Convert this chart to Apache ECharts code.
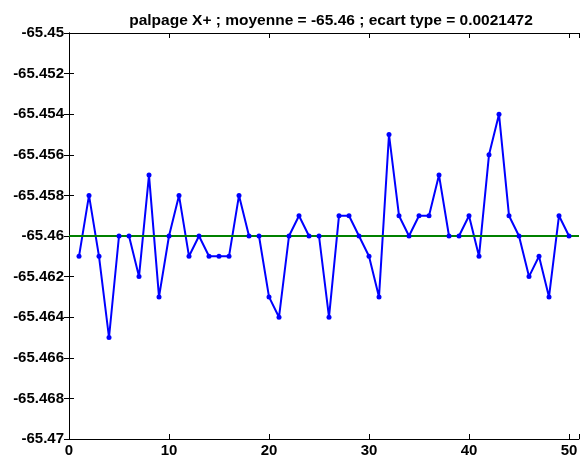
<!DOCTYPE html>
<html>
<head>
<meta charset="utf-8">
<script src="https://cdn.jsdelivr.net/npm/echarts@6/dist/echarts.min.js"></script>
<style>
  html, body { margin: 0; padding: 0; background: #fff; }
  #chart { width: 582px; height: 460px; }
</style>
</head>
<body>
<div id="chart"></div>
<script>
// Probe measurements, one per sample index
const sampleIndex = [
  1, 2, 3, 4, 5, 6, 7, 8, 9, 10,
  11, 12, 13, 14, 15, 16, 17, 18, 19, 20,
  21, 22, 23, 24, 25, 26, 27, 28, 29, 30,
  31, 32, 33, 34, 35, 36, 37, 38, 39, 40,
  41, 42, 43, 44, 45, 46, 47, 48, 49, 50
];
const measured = [
  -65.461, -65.458, -65.461, -65.465, -65.460, -65.460, -65.462, -65.457, -65.463, -65.460,
  -65.458, -65.461, -65.460, -65.461, -65.461, -65.461, -65.458, -65.460, -65.460, -65.463,
  -65.464, -65.460, -65.459, -65.460, -65.460, -65.464, -65.459, -65.459, -65.460, -65.461,
  -65.463, -65.455, -65.459, -65.460, -65.459, -65.459, -65.457, -65.460, -65.460, -65.459,
  -65.461, -65.456, -65.454, -65.459, -65.460, -65.462, -65.461, -65.463, -65.459, -65.460
];
const meanValue = -65.46;
const meanSpan = [0, 51];
const xTickValues = [0, 10, 20, 30, 40, 50];
const yTickValues = [-65.47, -65.468, -65.466, -65.464, -65.462, -65.46, -65.458, -65.456, -65.454, -65.452, -65.45];
const titleText = 'palpage X+ ; moyenne = -65.46 ; ecart type = 0.0021472';

const FONT = '"Liberation Sans", Arial, Helvetica, sans-serif';
const TITLE_SIZE = 15.5;
const LABEL_SIZE = 15;
const axisLineStyle = { show: true, lineStyle: { color: '#000', width: 1 } };
const innerTicks = { show: true, inside: true, length: 5, lineStyle: { color: '#000', width: 1 } };

const chart = echarts.init(document.getElementById('chart'), null, { renderer: 'canvas' });

chart.setOption({
  animation: false,
  backgroundColor: '#fff',
  title: {
    text: titleText,
    left: 326,
    top: 8,
    textAlign: 'center',
    textStyle: { fontFamily: FONT, fontSize: TITLE_SIZE, fontWeight: 'bold', color: '#000' }
  },
  grid: { left: 69, top: 33, width: 514, height: 406, containLabel: false },
  xAxis: [
    {
      type: 'value', position: 'bottom',
      min: xTickValues[0], max: meanSpan[1], interval: 10,
      axisLine: axisLineStyle, axisTick: innerTicks,
      splitLine: { show: false },
      axisLabel: {
        margin: 4, color: '#000', fontFamily: FONT, fontSize: LABEL_SIZE, fontWeight: 'bold',
        formatter: v => (xTickValues.indexOf(v) >= 0 ? String(v) : '')
      }
    },
    {
      type: 'value', position: 'top',
      min: xTickValues[0], max: meanSpan[1], interval: 10,
      axisLine: axisLineStyle, axisTick: innerTicks,
      splitLine: { show: false }, axisLabel: { show: false }
    }
  ],
  yAxis: [
    {
      type: 'value', position: 'left',
      min: yTickValues[0], max: yTickValues[yTickValues.length - 1], interval: 0.002,
      axisLine: axisLineStyle, axisTick: innerTicks,
      splitLine: { show: false },
      axisLabel: {
        margin: 5, color: '#000', fontFamily: FONT, fontSize: LABEL_SIZE, fontWeight: 'bold',
        formatter: v => String(+v.toFixed(3))
      }
    },
    {
      type: 'value', position: 'right',
      min: yTickValues[0], max: yTickValues[yTickValues.length - 1], interval: 0.002,
      axisLine: axisLineStyle, axisTick: innerTicks,
      splitLine: { show: false }, axisLabel: { show: false }
    }
  ],
  series: [
    {
      name: 'mesures',
      type: 'line',
      xAxisIndex: 0, yAxisIndex: 0,
      data: sampleIndex.map((x, i) => [x, measured[i]]),
      symbol: 'circle',
      symbolSize: 5,
      showSymbol: true,
      itemStyle: { color: '#0000ff' },
      lineStyle: { color: '#0000ff', width: 2 },
      emphasis: { disabled: true }
    },
    {
      name: 'moyenne',
      type: 'line',
      xAxisIndex: 0, yAxisIndex: 0,
      data: meanSpan.map(x => [x, meanValue]),
      symbol: 'none',
      lineStyle: { color: '#008000', width: 2 },
      emphasis: { disabled: true }
    }
  ]
});
</script>
</body>
</html>
